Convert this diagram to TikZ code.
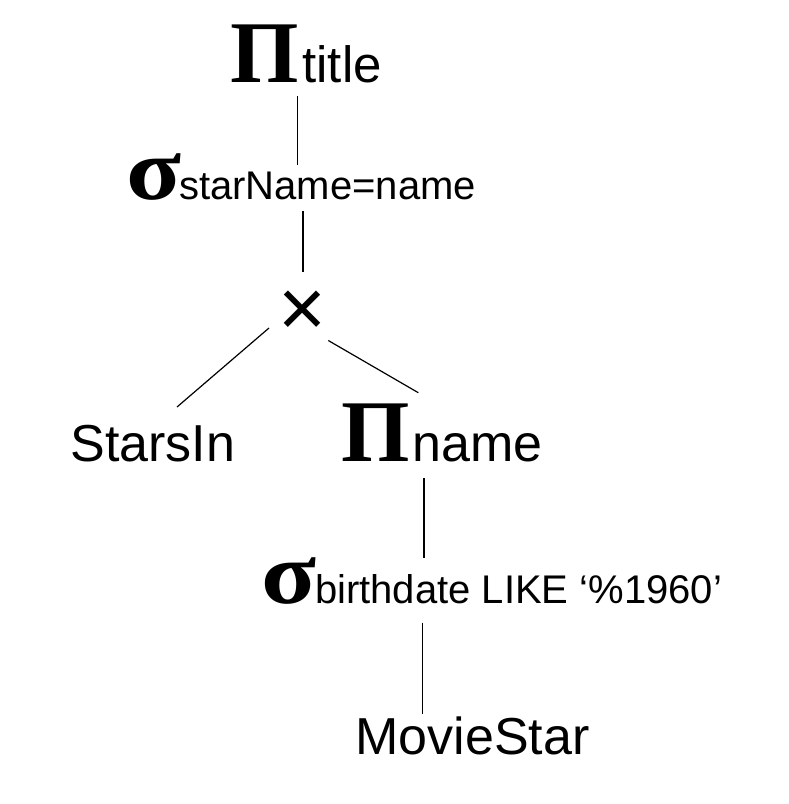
\documentclass[tikz,border=0pt]{standalone}
\usepackage{graphicx}
\usepackage{fontspec}
\setmainfont{Liberation Sans}
\newfontfamily\grk{Liberation Serif}
\begin{document}
\begin{tikzpicture}[x=1pt,y=-1pt,
  lbl/.style={inner sep=0pt, outer sep=0pt, anchor=base west, font=\fontsize{52}{60}\selectfont},
  opsym/.style={inner sep=0pt, outer sep=0pt, font=\fontsize{82}{90}\selectfont},
  edge/.style={draw=black, line width=1.2pt}]
\newcommand{\bigop}[1]{{\grk\bfseries\fontsize{88}{100}\selectfont #1}}
\newcommand{\sigop}{\scalebox{1.15}[1]{\bigop{σ}}\hspace{-2pt}}
\newcommand{\subtxt}[1]{{\fontsize{40}{48}\selectfont #1}}
\useasboundingbox (0,0) rectangle (788,804);
\node[lbl] (pt) at (230,82.5) {\bigop{Π}\hspace{4pt}\fontsize{51}{60}\selectfont title};
\node[lbl] (s1) at (126,199.5) {\sigop\subtxt{starName=name}};
\node[opsym] (x) at (302.5,314) {×};
\node[lbl] (si) at (70.5,461.7) {StarsIn};
\node[lbl] (pn) at (341,461.7) {\bigop{Π}\hspace{3pt}name};
\node[lbl] (s2) at (261,603.3) {\sigop\hspace{1pt}\subtxt{birthdate LIKE ‘\%1960’}};
\node[lbl] (ms) at (355.5,754) {MovieStar};
\draw[edge] ([xshift=67.5pt,yshift=-13.5pt]pt.base west) -- ([xshift=171.5pt,yshift=34.5pt]s1.base west);
\draw[edge] ([xshift=177pt,yshift=-11.5pt]s1.base west) -- ([xshift=0.5pt,yshift=42pt]x.center);
\draw[edge] ([xshift=-33.5pt,yshift=-14pt]x.center) -- ([xshift=106.5pt,yshift=54.7pt]si.base west);
\draw[edge] ([xshift=25.8pt,yshift=-26.5pt]x.center) -- ([xshift=77.3pt,yshift=69pt]pn.base west);
\draw[edge] ([xshift=83pt,yshift=-16.3pt]pn.base west) -- ([xshift=163pt,yshift=45.3pt]s2.base west);
\draw[edge] ([xshift=161.3pt,yshift=-19.4pt]s2.base west) -- ([xshift=66.8pt,yshift=40pt]ms.base west);
\end{tikzpicture}
\end{document}
